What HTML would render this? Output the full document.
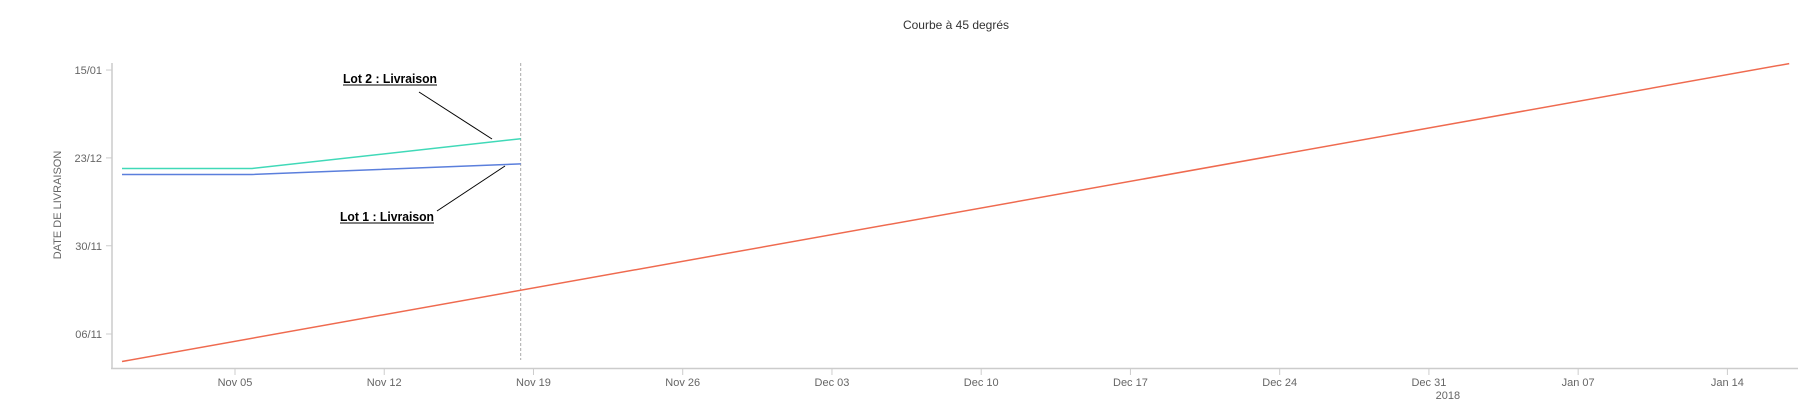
<!DOCTYPE html>
<html><head><meta charset="utf-8">
<style>
html,body{margin:0;padding:0;background:#fff;}
svg{display:block;font-family:"Liberation Sans",sans-serif;}
</style></head>
<body>
<svg id="chart" width="1811" height="419" viewBox="0 0 1811 419">
<text x="956" y="29" text-anchor="middle" font-size="12" fill="#333">Courbe à 45 degrés</text>
<text transform="translate(61,205) rotate(-90)" text-anchor="middle" font-size="11" fill="#666">DATE DE LIVRAISON</text>
<g id="axes"></g>
<g id="series"></g>
<g>
<text x="343" y="83" font-size="13" font-weight="bold" fill="#000" textLength="94" lengthAdjust="spacingAndGlyphs">Lot 2 : Livraison</text>
<line x1="343" y1="85" x2="437" y2="85" stroke="#000" stroke-width="1"/>
<line x1="419" y1="92" x2="492" y2="139" stroke="#000" stroke-width="1"/>
<text x="340" y="221" font-size="13" font-weight="bold" fill="#000" textLength="94" lengthAdjust="spacingAndGlyphs">Lot 1 : Livraison</text>
<line x1="340" y1="223" x2="434" y2="223" stroke="#000" stroke-width="1"/>
<line x1="437" y1="211" x2="505" y2="166" stroke="#000" stroke-width="1"/>
</g>
</svg>
<script>
// days relative to 2017-11-01 (day 0)
const xTickDays = [4, 11, 18, 25, 32, 39, 46, 53, 60, 67, 74];
const xTickLabels = ["Nov 05","Nov 12","Nov 19","Nov 26","Dec 03","Dec 10","Dec 17","Dec 24","Dec 31","Jan 07","Jan 14"];
const yTickDays = [5, 28.4, 51.7, 75];
const yTickLabels = ["06/11","30/11","23/12","15/01"];
const refX = [-1.3, 76.9];
const refY = [-2.3, 76.7];
const lot2X = [-1.3, 4.8, 17.4];
const lot2Y = [48.9, 48.9, 56.8];
const lot1X = [-1.3, 4.8, 17.4];
const lot1Y = [47.3, 47.3, 50.1];
const todayDay = [17.4];

function xs(d){ return 235 + (d - 4) * 21.32; }
function ys(d){ return 334 - (d - 5) * 3.771; }

const NS = "http://www.w3.org/2000/svg";
const axes = document.getElementById("axes");
const series = document.getElementById("series");
function mk(tag, attrs, parent){
  const e = document.createElementNS(NS, tag);
  for (const k in attrs) e.setAttribute(k, attrs[k]);
  parent.appendChild(e);
  return e;
}

let e;
e = mk("line", {x1:112, y1:63, x2:112, y2:369, stroke:"#ccc", "stroke-width":1.5}, axes);


e = mk("line", {x1:111, y1:368.5, x2:1798, y2:368.5, stroke:"#ccc", "stroke-width":1.5}, axes);



yTickDays.forEach((d, i) => {
  const y = ys(d);
  const t = mk("line", {x1:106, y1:y, x2:112, y2:y, stroke:"#ccc"}, axes);
  
  
  const l = mk("text", {x:102, y:y+4, "text-anchor":"end", "font-size":11, fill:"#666"}, axes);
  l.textContent = yTickLabels[i];
  
  
});
xTickDays.forEach((d, i) => {
  const x = xs(d);
  const t = mk("line", {x1:x, y1:369, x2:x, y2:375, stroke:"#ccc"}, axes);
  
  
  const l = mk("text", {x:x, y:386, "text-anchor":"middle", "font-size":11, fill:"#666"}, axes);
  l.textContent = xTickLabels[i];
  
  
});
e = mk("text", {x:xs(60)+19, y:399, "text-anchor":"middle", "font-size":11, fill:"#666"}, axes);
e.textContent = "2018";



todayDay.forEach(d => {
  const v = mk("line", {x1:xs(d), y1:63, x2:xs(d), y2:360, stroke:"#aaa", "stroke-dasharray":"3,2"}, series);
  
  
});

function pts(X, Y){ return X.map((d,i)=>xs(d).toFixed(1)+","+ys(Y[i]).toFixed(1)).join(" "); }
e = mk("polyline", {points:pts(refX, refY), fill:"none", stroke:"#ef6a4f", "stroke-width":1.5}, series);


e = mk("polyline", {points:pts(lot2X, lot2Y), fill:"none", stroke:"#40d9b8", "stroke-width":1.5}, series);


e = mk("polyline", {points:pts(lot1X, lot1Y), fill:"none", stroke:"#5b7fdc", "stroke-width":1.5}, series);


</script>
</body></html>
